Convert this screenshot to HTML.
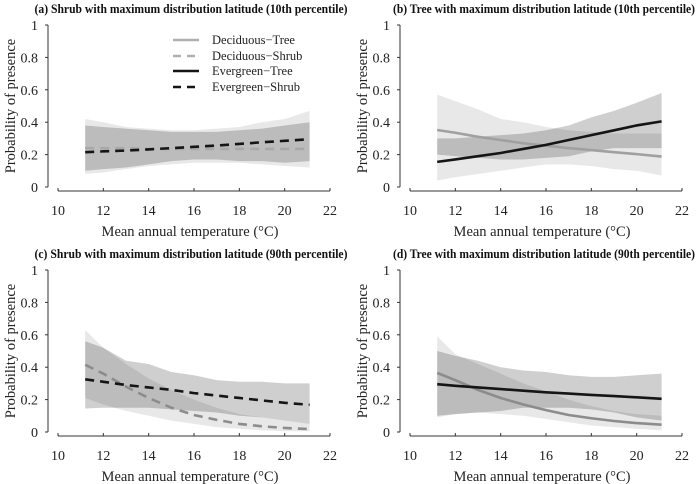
<!DOCTYPE html>
<html><head><meta charset="utf-8"><style>
body{margin:0;background:#fff}
svg{display:block;font-family:"Liberation Serif",serif}
</style></head><body>
<svg id="chart" width="700" height="484" viewBox="0 0 700 484"></svg>
<script>
const temps=[11.2,12,13,14,15,16,17,18,19,20,21.1];
const xTicks=[10,12,14,16,18,20,22];
const yTicks=[0,0.2,0.4,0.6,0.8,1];
const yTickLabels=["0","0.2","0.4","0.6","0.8","1"];
const titles=["(a) Shrub with maximum distribution latitude (10th percentile)","(b) Tree with maximum distribution latitude (10th percentile)","(c) Shrub with maximum distribution latitude (90th percentile)","(d) Tree with maximum distribution latitude (90th percentile)"];
// panel a
const aDecLine=[0.24,0.24,0.24,0.235,0.235,0.235,0.235,0.235,0.235,0.235,0.235];
const aDecUp=[0.42,0.40,0.37,0.36,0.35,0.35,0.36,0.37,0.40,0.42,0.47];
const aDecLo=[0.08,0.09,0.11,0.13,0.14,0.15,0.15,0.15,0.14,0.13,0.12];
const aEvLine=[0.215,0.22,0.225,0.232,0.24,0.248,0.256,0.266,0.276,0.285,0.295];
const aEvUp=[0.38,0.37,0.36,0.35,0.34,0.34,0.34,0.35,0.36,0.38,0.40];
const aEvLo=[0.10,0.11,0.12,0.14,0.16,0.17,0.17,0.16,0.16,0.15,0.16];
// panel b
const bDecLine=[0.352,0.335,0.31,0.29,0.27,0.255,0.24,0.228,0.215,0.203,0.188];
const bDecUp=[0.57,0.53,0.48,0.42,0.40,0.37,0.35,0.34,0.33,0.33,0.33];
const bDecLo=[0.04,0.06,0.08,0.10,0.12,0.14,0.14,0.13,0.11,0.10,0.07];
const bEvLine=[0.155,0.17,0.19,0.21,0.235,0.26,0.29,0.32,0.35,0.38,0.405];
const bEvUp=[0.30,0.30,0.31,0.32,0.33,0.35,0.38,0.43,0.47,0.52,0.58];
const bEvLo=[0.20,0.19,0.18,0.17,0.17,0.18,0.19,0.22,0.24,0.24,0.24];
// panel c
const cDecLine=[0.415,0.36,0.28,0.21,0.15,0.105,0.075,0.05,0.035,0.025,0.018];
const cDecUp=[0.63,0.52,0.42,0.33,0.26,0.20,0.15,0.11,0.09,0.07,0.05];
const cDecLo=[0.21,0.17,0.13,0.10,0.07,0.05,0.03,0.02,0.01,0.005,0.005];
const cEvLine=[0.325,0.31,0.29,0.275,0.26,0.24,0.225,0.21,0.195,0.18,0.168];
const cEvUp=[0.56,0.52,0.44,0.42,0.37,0.35,0.32,0.31,0.31,0.30,0.30];
const cEvLo=[0.145,0.15,0.15,0.15,0.14,0.13,0.12,0.10,0.09,0.07,0.05];
// panel d
const dDecLine=[0.365,0.32,0.26,0.21,0.17,0.135,0.105,0.085,0.068,0.055,0.045];
const dDecUp=[0.59,0.48,0.42,0.36,0.30,0.25,0.20,0.16,0.13,0.11,0.10];
const dDecLo=[0.09,0.11,0.12,0.11,0.10,0.08,0.06,0.04,0.03,0.02,0.01];
const dEvLine=[0.295,0.285,0.275,0.265,0.255,0.245,0.237,0.229,0.222,0.214,0.205];
const dEvUp=[0.50,0.47,0.44,0.40,0.38,0.37,0.35,0.34,0.34,0.35,0.36];
const dEvLo=[0.10,0.11,0.12,0.13,0.15,0.15,0.15,0.14,0.12,0.09,0.07];

const NS="http://www.w3.org/2000/svg";
const svg=document.getElementById('chart');
function mk(tag,attrs,parent,text){const e=document.createElementNS(NS,tag);for(const k in attrs)e.setAttribute(k,attrs[k]);if(text!==undefined)e.textContent=text;(parent||svg).appendChild(e);return e;}

const panels=[
 {dx:0,dy:0,decUp:aDecUp,decLo:aDecLo,decLine:aDecLine,evUp:aEvUp,evLo:aEvLo,evLine:aEvLine,dash:true,grayCol:'#a8a8a8',key:'a',tc:191,tw:313},
 {dx:352,dy:0,decUp:bDecUp,decLo:bDecLo,decLine:bDecLine,evUp:bEvUp,evLo:bEvLo,evLine:bEvLine,dash:false,grayCol:'#a0a0a0',key:'b',tc:544,tw:302},
 {dx:0,dy:245,decUp:cDecUp,decLo:cDecLo,decLine:cDecLine,evUp:cEvUp,evLo:cEvLo,evLine:cEvLine,dash:true,grayCol:'#8c8c8c',key:'c',tc:191,tw:313},
 {dx:352,dy:245,decUp:dDecUp,decLo:dDecLo,decLine:dDecLine,evUp:dEvUp,evLo:dEvLo,evLine:dEvLine,dash:false,grayCol:'#8c8c8c',key:'d',tc:544,tw:302}
];

panels.forEach((p,i)=>{
  const g=mk('g',{});
  
  
  const X=v=>p.dx+58+(v-10)*(272/12);
  const Y=v=>p.dy+187-v*162;
  const area=(up,lo,fill,name)=>{
    let d='M'+temps.map((t,j)=>X(t)+','+Y(up[j])).join('L');
    d+='L'+temps.map((t,j)=>X(t)+','+Y(lo[j])).reverse().join('L')+'Z';
    const e=mk('path',{d:d,fill:fill},g);
    
    
  };
  area(p.decUp,p.decLo,'rgba(0,0,0,0.09)','deciduous-ci-band');
  area(p.evUp,p.evLo,'rgba(0,0,0,0.19)','evergreen-ci-band');
  const line=(vals,col,dash,name)=>{
    const a={d:'M'+temps.map((t,j)=>X(t)+','+Y(vals[j])).join('L'),fill:'none',stroke:col,'stroke-width':2.6};
    if(dash)a['stroke-dasharray']='9,6';
    const e=mk('path',a,g);
    
    
  };
  line(p.decLine,p.grayCol,p.dash,'deciduous-line');
  line(p.evLine,'#151515',p.dash,'evergreen-line');
  const ya=mk('line',{x1:p.dx+48,x2:p.dx+48,y1:Y(1),y2:Y(0),stroke:'#333','stroke-width':1},g);
  
  yTicks.forEach((v,j)=>{
    mk('line',{x1:p.dx+45,x2:p.dx+48,y1:Y(v),y2:Y(v),stroke:'#333'},g);
    const t=mk('text',{x:p.dx+38,y:Y(v)+5,'text-anchor':'end','font-size':14,fill:'#222'},g,yTickLabels[j]);
    
  });
  const xa=mk('line',{x1:X(10),x2:X(22),y1:p.dy+191,y2:p.dy+191,stroke:'#333'},g);
  
  xTicks.forEach(v=>{
    mk('line',{x1:X(v),x2:X(v),y1:p.dy+188,y2:p.dy+191,stroke:'#333'},g);
    const t=mk('text',{x:X(v),y:p.dy+215,'text-anchor':'middle','font-size':14,fill:'#222'},g,String(v));
    
  });
  const xt=mk('text',{x:p.dx+190,y:p.dy+236,'text-anchor':'middle','font-size':14.5,fill:'#222'},g,'Mean annual temperature (°C)');
  
  const yt=mk('text',{x:0,y:0,transform:'translate('+(p.dx+15)+','+(p.dy+106)+') rotate(-90)','text-anchor':'middle','font-size':14.5,fill:'#222'},g,'Probability of presence');
  
  const tt=mk('text',{x:p.tc,y:p.dy+13,'text-anchor':'middle','font-size':12.5,'font-weight':'bold',fill:'#111',textLength:p.tw,lengthAdjust:'spacingAndGlyphs'},g,titles[i]);
  
});

const lg=mk('g',{});


const legLabels=['Deciduous\u2212Tree','Deciduous\u2212Shrub','Evergreen\u2212Tree','Evergreen\u2212Shrub'];
const legCols=['#b0b0b0','#b0b0b0','#151515','#151515'];
const legDash=[false,true,false,true];
const legY=[40,56,71,87];
legLabels.forEach((lab,j)=>{
  const a={x1:173,x2:199,y1:legY[j],y2:legY[j],stroke:legCols[j],'stroke-width':2.6};
  if(legDash[j])a['stroke-dasharray']='8,6';
  const l=mk('line',a,lg);
  
  const t=mk('text',{x:212,y:legY[j]+4,'font-size':12.5,fill:'#222'},lg,lab);
  
});
</script>
</body></html>
